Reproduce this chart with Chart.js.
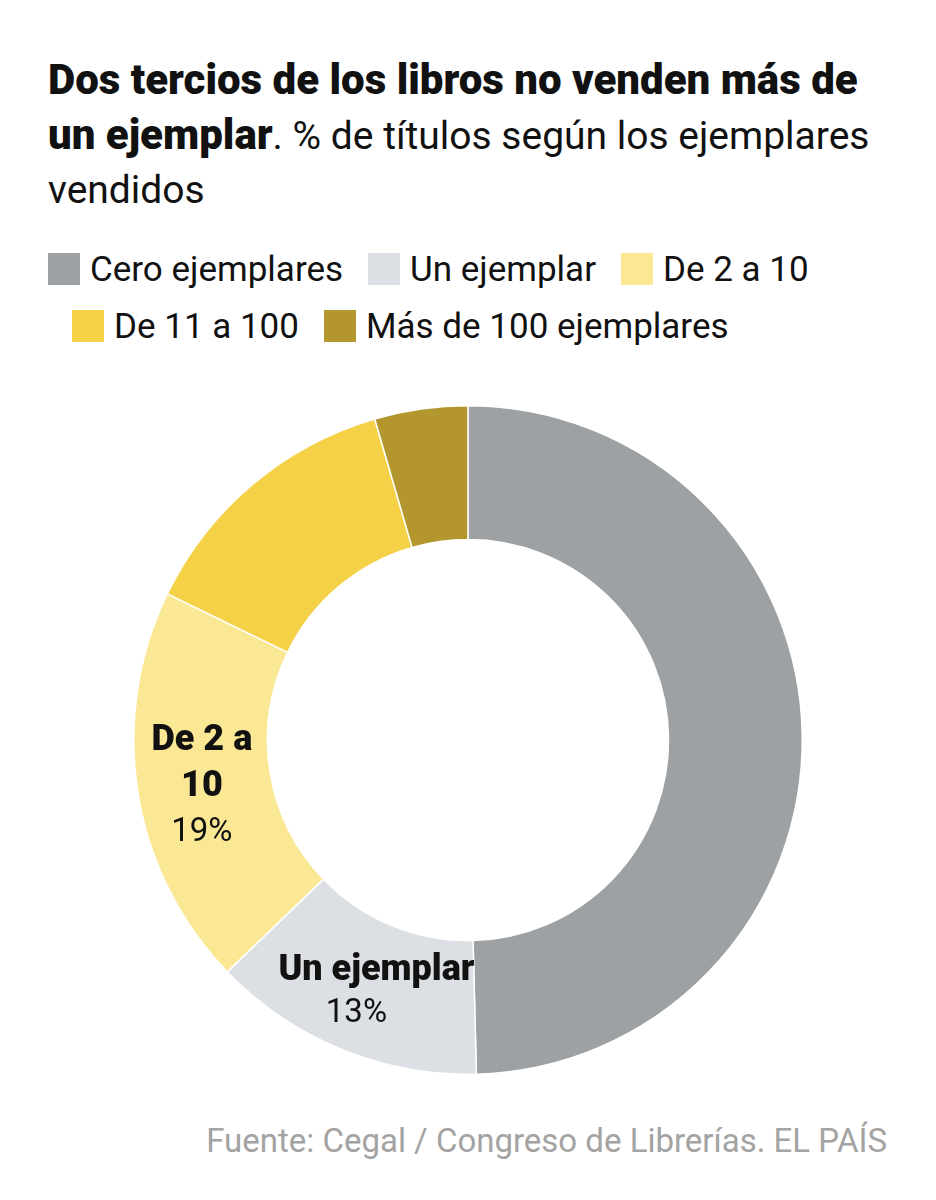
<!DOCTYPE html>
<html>
<head>
<meta charset="utf-8">
<script src="https://cdn.jsdelivr.net/npm/chart.js@4.4.1/dist/chart.umd.min.js"></script>
<style>
    body { margin: 0; background: #fff; font-family: Roboto, "Liberation Sans", sans-serif; color: #111; }
    #wrap { width: 936px; height: 1200px; position: relative; }
    #title { position: absolute; left: 48px; top: 53px; width: 850px; font-size: 39px; line-height: 54px; }
    #title b { font-weight: 900; font-size: 42px; }
    #legend { position: absolute; left: 48px; top: 241px; width: 870px; font-size: 35px; line-height: 57px;
        padding-left: 24px; text-indent: -24px; box-sizing: border-box; }
    .item { display: inline-block; text-indent: 0; margin-right: 25px; white-space: nowrap; }
    .box { display: inline-block; width: 32px; height: 32px; vertical-align: -4px; margin-right: 10px; }
    #chartBox { position: absolute; left: 0; top: 390px; width: 936px; height: 700px; }
    #source { position: absolute; right: 49px; top: 1121px; font-size: 33px; color: #a3a3a3; }
</style>
</head>
<body>
<div id="wrap">
    <div id="title"><b>Dos tercios de los libros no venden más de un ejemplar</b>. % de títulos según los ejemplares vendidos</div>
    <div id="legend"></div>
    <div id="chartBox"><canvas id="chartBooks"></canvas></div>
    <div id="source">Fuente: Cegal / Congreso de Librerías. EL PAÍS</div>
</div>
<script>
const labels = ['Cero ejemplares', 'Un ejemplar', 'De 2 a 10', 'De 11 a 100', 'Más de 100 ejemplares']
const shares = [49.6, 13.2, 19.4, 13.3, 4.5]
const colors = ['#9da1a3', '#dcdfe3', '#fae895', '#f5d147', '#b4962f']
// which slices get a label inside, and how the name wraps
const sliceNames = [null, ['Un ejemplar'], ['De 2 a', '10'], null, null]
const sliceValues = [null, '13%', '19%', null, null]

const legend = document.getElementById('legend');
labels.forEach((label, i) => {
    legend.innerHTML += '<span class="item"><span class="box" style="background:' + colors[i] + '"></span>' + label + '</span>';
})

const sliceLabels = {
    id: 'sliceLabels',
    afterDatasetsDraw(chart) {
        const ctx = chart.ctx;
        const meta = chart.getDatasetMeta(0);
        meta.data.forEach((arc, i) => {
            if (!sliceNames[i]) return;
            const pos = arc.tooltipPosition();
            const multi = sliceNames[i].length > 1;
            const step = multi ? 46 : 43;
            // small nudges so the labels sit like in the print version
            const nameDx = multi ? -2 : 10;
            const valueDx = multi ? -2 : -10;
            const lines = sliceNames[i].length + 1;
            let y = pos.y + 5 - (lines - 1) * step / 2;
            ctx.save();
            ctx.fillStyle = '#111';
            ctx.textAlign = 'center';
            ctx.textBaseline = 'middle';
            ctx.font = '900 36px Roboto';
            sliceNames[i].forEach(line => {
                ctx.fillText(line, pos.x + nameDx, y);
                y += step;
            })
            ctx.font = '400 33px Roboto';
            ctx.fillText(sliceValues[i], pos.x + valueDx, y);
            ctx.restore();
        })
    }
}

const config = {
    type: 'doughnut',
    data: {
        labels: labels,
        datasets: [{
            data: shares,
            backgroundColor: colors,
            borderColor: '#fff',
            borderWidth: 1.5,
        }]
    },
    options: {
        responsive: true,
        maintainAspectRatio: false,
        animation: false,
        cutout: '60%',
        layout: {
            padding: { top: 15, bottom: 15 }
        },
        plugins: {
            legend: { display: false },
            tooltip: { enabled: false },
        }
    },
    plugins: [sliceLabels]
};
var chart = new Chart(document.getElementById('chartBooks'), config);
</script>
</body>
</html>
